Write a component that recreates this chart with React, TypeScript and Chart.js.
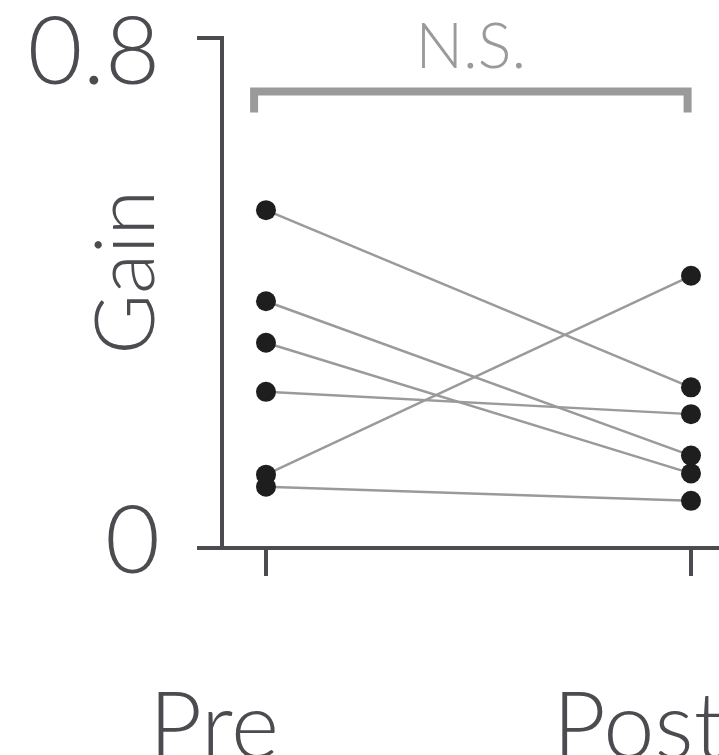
import React, { useEffect, useRef } from 'react';
import { Chart, registerables } from 'chart.js';

Chart.register(...registerables);

// ---- data ----
const categories = ['Pre', 'Post'];
const categoryPositions = [0, 1];
const preValues = [0.53, 0.387, 0.322, 0.245, 0.115, 0.096];
const postValues = [0.252, 0.145, 0.117, 0.21, 0.427, 0.074];
const yTickValues = [0, 0.8];
const yTickLabels = ['0', '0.8'];
const yAxisTitle = 'Gain';
const significanceLabel = 'N.S.';
// bracket annotation, in data units
const bracketSpan = [-0.028, 0.992];
const bracketLevels = [0.716, 0.683];
const significanceLabelLevel = 0.753;

const FONT = 'Lato, "Open Sans", sans-serif';
const AXIS = '#4b4b50';
const LINE = '#9a9a9a';
const DOT = '#1e1e1e';

const bracketPlugin = {
  id: 'nsBracket',
  afterDatasetsDraw(chart: any) {
    const { ctx, scales } = chart;
    const x = scales.x;
    const y = scales.y;
    const x0 = x.getPixelForValue(bracketSpan[0]);
    const x1 = x.getPixelForValue(bracketSpan[1]);
    const yTop = y.getPixelForValue(bracketLevels[0]);
    const yEnd = y.getPixelForValue(bracketLevels[1]);
    ctx.save();
    ctx.strokeStyle = LINE;
    ctx.lineWidth = 8;
    ctx.lineJoin = 'miter';
    ctx.lineCap = 'butt';
    ctx.beginPath();
    ctx.moveTo(x0, yEnd);
    ctx.lineTo(x0, yTop);
    ctx.lineTo(x1, yTop);
    ctx.lineTo(x1, yEnd);
    ctx.stroke();
    ctx.fillStyle = LINE;
    ctx.font = `300 63px ${FONT}`;
    ctx.textAlign = 'center';
    ctx.textBaseline = 'alphabetic';
    ctx.fillText(significanceLabel, (x0 + x1) / 2, y.getPixelForValue(significanceLabelLevel));
    ctx.restore();
  },
};

export default function App() {
  const ref = useRef<HTMLCanvasElement | null>(null);

  useEffect(() => {
    if (!ref.current) return;
    const datasets = preValues.map((pre, i) => ({
      data: [
        { x: categoryPositions[0], y: pre },
        { x: categoryPositions[1], y: postValues[i] },
      ],
      showLine: true,
      borderColor: LINE,
      borderWidth: 2.5,
      pointRadius: 10,
      pointHoverRadius: 10,
      pointBackgroundColor: DOT,
      pointBorderWidth: 0,
      clip: false as any,
    }));

    const chart = new Chart(ref.current, {
      type: 'scatter',
      data: { datasets },
      plugins: [bracketPlugin],
      options: {
        responsive: false,
        animation: false,
        events: [],
        layout: { autoPadding: false, padding: { top: 38, left: 0, right: 0, bottom: 0 } },
        plugins: { legend: { display: false }, tooltip: { enabled: false } },
        scales: {
          x: {
            type: 'linear',
            min: -0.1035,
            max: 1.0659,
            afterBuildTicks: (scale: any) => {
              scale.ticks = categoryPositions.map((v) => ({ value: v }));
            },
            afterFit: (scale: any) => {
              scale.height = 207;
              scale.paddingLeft = 0;
              scale.paddingRight = 0;
            },
            ticks: {
              autoSkip: false,
              maxRotation: 0,
              minRotation: 0,
              callback: (_v: any, i: number) => categories[i],
              labelOffset: -52,
              padding: 97,
              color: AXIS,
              font: { family: FONT, size: 92, weight: '300' as any },
            },
            grid: {
              drawOnChartArea: false,
              drawTicks: true,
              tickLength: 28,
              color: AXIS,
              tickColor: AXIS,
              lineWidth: 4,
              tickWidth: 4,
            },
            border: { display: true, color: AXIS, width: 4 },
          },
          y: {
            type: 'linear',
            min: yTickValues[0],
            max: yTickValues[yTickValues.length - 1],
            afterBuildTicks: (scale: any) => {
              scale.ticks = yTickValues.map((v) => ({ value: v }));
            },
            afterFit: (scale: any) => {
              scale.width = 222;
              scale.paddingTop = 0;
              scale.paddingBottom = 0;
            },
            ticks: {
              autoSkip: false,
              padding: 37,
              color: AXIS,
              callback: (_v: any, i: number) =>
                i === yTickValues.length - 1 ? ['', yTickLabels[i]] : [yTickLabels[i], ''],
              font: (ctx: any) => ({
                family: FONT,
                size: 95,
                weight: '300',
                lineHeight: ctx.index === yTickValues.length - 1 ? '31px' : '12px',
              }),
            } as any,
            grid: {
              drawOnChartArea: false,
              drawTicks: true,
              tickLength: 25,
              color: AXIS,
              tickColor: AXIS,
              lineWidth: 4,
              tickWidth: 4,
            },
            border: { display: true, color: AXIS, width: 4 },
            title: {
              display: true,
              text: '\u2002' + yAxisTitle,
              color: AXIS,
              font: { family: FONT, size: 83, weight: '300' as any },
              padding: { top: 77, bottom: 0 },
            },
          },
        },
      },
    } as any);
    return () => chart.destroy();
  }, []);

  return (
    <>
      <style>{'html,body{margin:0;padding:0;overflow:hidden;background:#fff}'}</style>
      <canvas ref={ref} width={719} height={755} style={{ display: 'block', width: 719, height: 755 }} />
    </>
  );
}
